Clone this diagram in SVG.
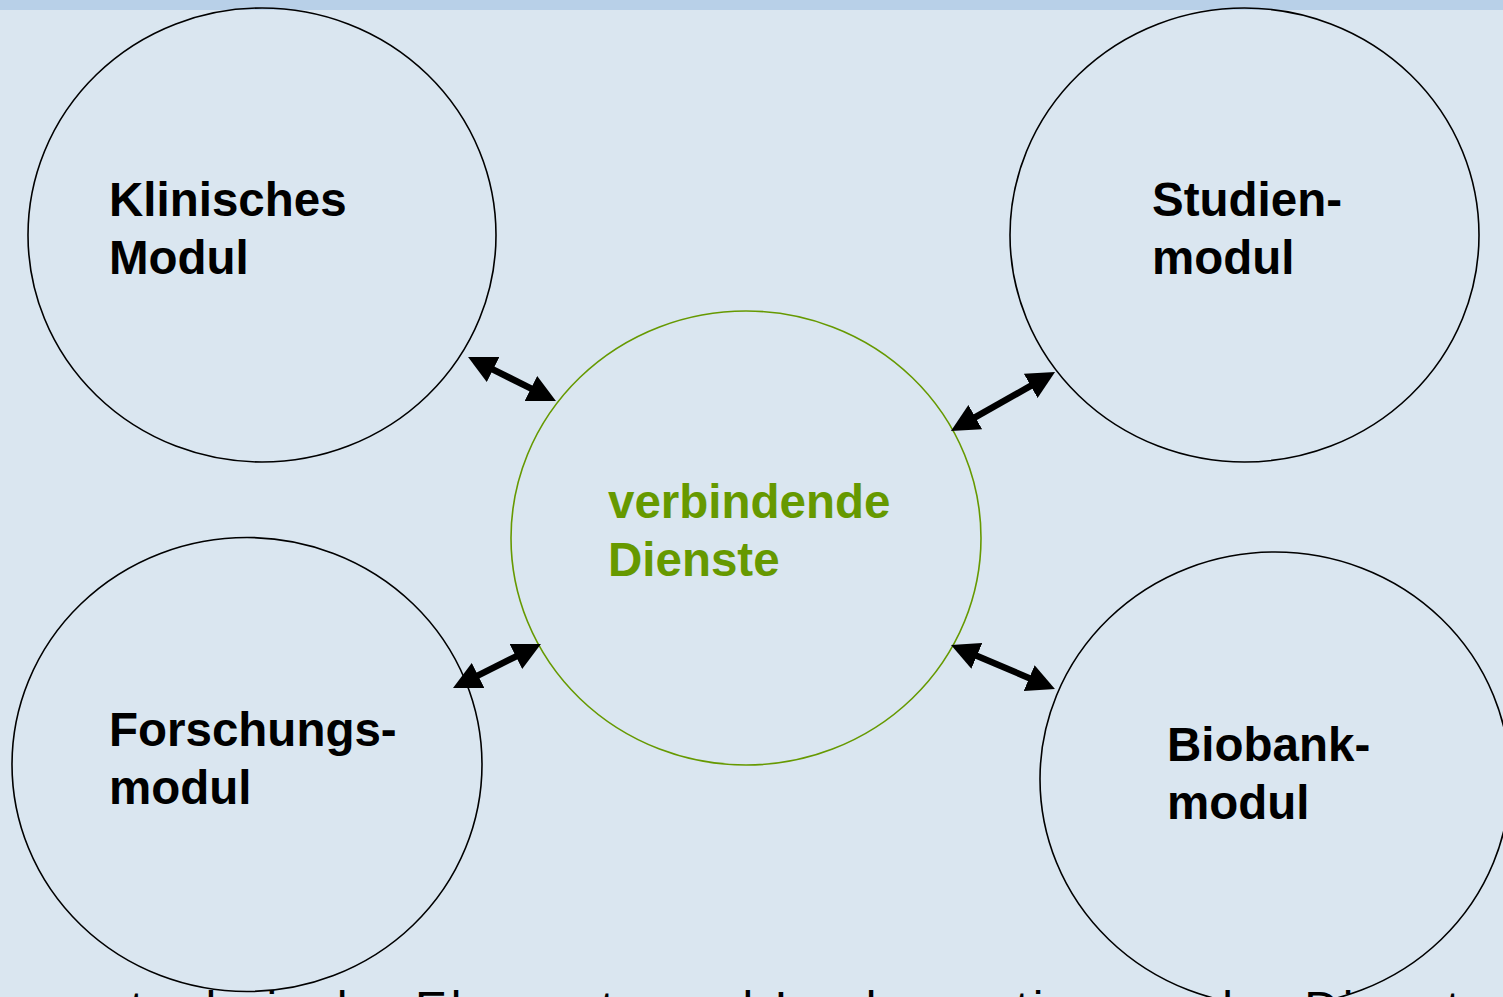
<svg xmlns="http://www.w3.org/2000/svg" width="1503" height="997" viewBox="0 0 1503 997">
  <style>
    .mod { fill: none; stroke: #000; stroke-width: 1.6; }
    .hub { fill: none; stroke: #669900; stroke-width: 1.6; }
    .lbl { font-family: "Liberation Sans", Arial, sans-serif; font-weight: bold; font-size: 47.5px; fill: #000; }
    .hubl { fill: #669900; }
    .link { stroke: #000; stroke-width: 6.5; fill: none; marker-start: url(#head); marker-end: url(#head); }
    .foot { font-family: "Liberation Sans", Arial, sans-serif; font-size: 48px; fill: #000; }
  </style>
  <defs>
    <marker id="head" markerUnits="userSpaceOnUse" markerWidth="28" markerHeight="28" viewBox="0 0 28 28" refX="6" refY="14" orient="auto-start-reverse">
      <path d="M0,0 L28,14 L0,28 z" fill="#000"/>
    </marker>
  </defs>

  <!-- background and title band -->
  <rect x="0" y="0" width="1503" height="997" fill="#dae6f0"/>
  <rect x="0" y="0" width="1503" height="10" fill="#b8d0e8"/>

  <g id="klinisches-modul">
    <ellipse class="mod" cx="262" cy="235" rx="234" ry="227"/>
    <text class="lbl" x="109" y="216">Klinisches</text>
    <text class="lbl" x="109" y="274">Modul</text>
  </g>

  <g id="studienmodul">
    <ellipse class="mod" cx="1244.5" cy="235" rx="234.5" ry="227"/>
    <text class="lbl" x="1152" y="216">Studien-</text>
    <text class="lbl" x="1152" y="274">modul</text>
  </g>

  <g id="verbindende-dienste">
    <ellipse class="hub" cx="746" cy="538" rx="235" ry="227"/>
    <text class="lbl hubl" x="608" y="518">verbindende</text>
    <text class="lbl hubl" x="608" y="576">Dienste</text>
  </g>

  <g id="forschungsmodul">
    <ellipse class="mod" cx="247" cy="764.5" rx="235" ry="227"/>
    <text class="lbl" x="109" y="746">Forschungs-</text>
    <text class="lbl" x="109" y="804">modul</text>
  </g>

  <g id="biobankmodul">
    <ellipse class="mod" cx="1275" cy="779" rx="235" ry="227"/>
    <text class="lbl" x="1167" y="761">Biobank-</text>
    <text class="lbl" x="1167" y="819">modul</text>
  </g>

  <!-- bidirectional links between the modules and the hub -->
  <g id="connectors">
    <line class="link" x1="487.7" y1="366.8" x2="536.3" y2="391.2"/>
    <line class="link" x1="970.1" y1="420.1" x2="1035.9" y2="382.9"/>
    <line class="link" x1="472.7" y1="678.2" x2="521.3" y2="653.8"/>
    <line class="link" x1="971.3" y1="653.6" x2="1034.7" y2="680.4"/>
  </g>

  <!-- caption line running past the lower page edge -->
  <text class="foot" x="130" y="1025" textLength="1360" lengthAdjust="spacing">technische Elemente und Implementierung der Dienste</text>
</svg>
